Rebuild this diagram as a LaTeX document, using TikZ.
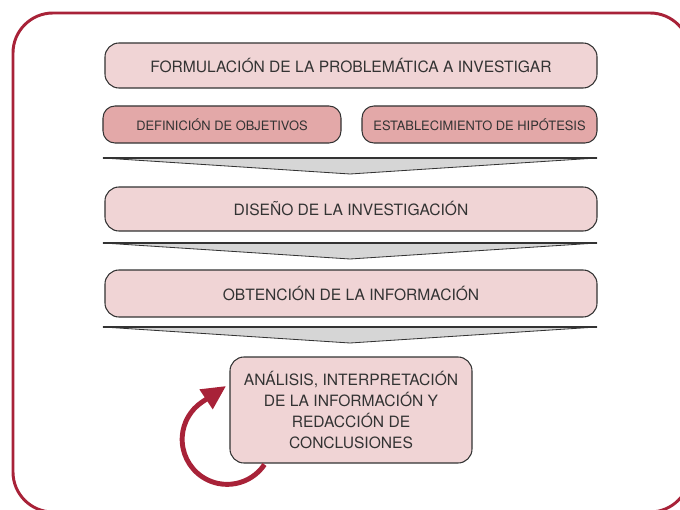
\documentclass[tikz,border=0pt]{standalone}
\usepackage{fontspec}
\setmainfont{TeX Gyre Heros}
\usetikzlibrary{arrows.meta,calc}
\definecolor{granate}{RGB}{168,34,56}
\definecolor{rosa}{RGB}{240,212,213}
\definecolor{rosaosc}{RGB}{227,168,168}
\definecolor{gris}{RGB}{214,214,214}
\definecolor{linea}{RGB}{51,51,51}

\begin{document}
\begin{tikzpicture}[x=0.03cm,y=-0.03cm]
        \tikzstyle{every node}=[text=linea, align=center, inner sep=2pt]
        \tikzstyle{etapa}=[draw=linea, fill=rosa, line width=0.9pt, rounded corners=0.42cm, minimum width=14.76cm, font=\fontsize{13.3}{18.2}\selectfont]
        \tikzstyle{subetapa}=[etapa, fill=rosaosc, rounded corners=0.36cm, minimum height=1.11cm, font=\fontsize{11}{13}\selectfont]
        \tikzstyle{flecha}=[draw=linea, fill=gris, line width=0.7pt, line join=round]
        \tikzstyle{marco}=[draw=granate, line width=2.5pt, rounded corners=1.2cm]

        \useasboundingbox (0,0) rectangle (680,510);
        \clip (0,0) rectangle (680,510);
        \path[marco] (13,13) rectangle (690,512);

        \node[etapa, minimum height=1.35cm] (formulacion) at (351,65.5) {FORMULACIÓN DE LA PROBLEMÁTICA A INVESTIGAR};
        \node[subetapa, minimum width=7.14cm] (objetivos) at (222,124.5) {DEFINICIÓN DE OBJETIVOS};
        \node[subetapa, minimum width=7.05cm] (hipotesis) at (479.5,124.5) {ESTABLECIMIENTO DE HIPÓTESIS};
        \node[etapa, minimum height=1.32cm] (diseno) at (351,209) {DISEÑO DE LA INVESTIGACIÓN};
        \node[etapa, minimum height=1.41cm] (obtencion) at (351,293.5) {OBTENCIÓN DE LA INFORMACIÓN};
        \node[etapa, minimum width=7.26cm, minimum height=3.18cm] (analisis) at (351,410)
            {ANÁLISIS, INTERPRETACIÓN\\DE LA INFORMACIÓN Y\\REDACCIÓN DE\\CONCLUSIONES};

        % flechas entre etapas
        \foreach \y in {158,243,327} {
            \draw[flecha] (103,\y) -- (597,\y) -- (350,\y+16) -- cycle;
            \draw[linea, line width=1.4pt] (103,\y) -- (597,\y);
        }

        % ciclo de la ultima etapa
        \coordinate (salida) at ($(analisis.south west)+(35,1)$);
        \draw[granate, line width=4.2pt, -{Triangle[length=0.72cm,width=0.68cm]}]
            (salida) arc[start angle=34, end angle=236, radius=45] -- ++(24,-16);
\end{tikzpicture}
\end{document}
